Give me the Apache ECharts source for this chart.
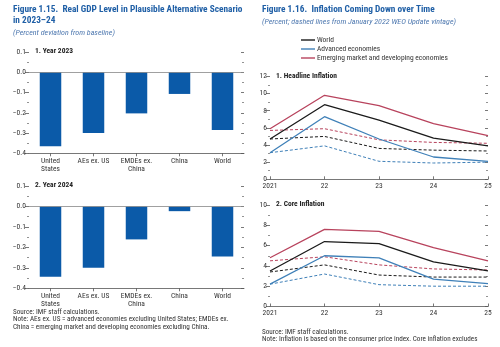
<!DOCTYPE html>
<html>
<head>
<meta charset="utf-8">
<script src="https://cdn.jsdelivr.net/npm/echarts@6/dist/echarts.min.js"></script>
<style>
  html, body { margin: 0; padding: 0; background: #fff; }
  #chart { width: 500px; height: 347px; }
</style>
</head>
<body>
<div id="chart"></div>
<script>
// Figure 1.15: real GDP level deviation from baseline (percent)
const gdpCategories = ['United\nStates', 'AEs ex. US', 'EMDEs ex.\nChina', 'China', 'World'];
const gdp2023 = [-0.365, -0.30, -0.203, -0.107, -0.285];
const gdp2024 = [-0.343, -0.30, -0.161, -0.023, -0.244];

// Figure 1.16: inflation (percent); "Jan" arrays are the January 2022 WEO Update vintage
const years = ['2021', '22', '23', '24', '25'];
const headlineWorld = [4.7, 8.7, 6.9, 4.8, 3.9];
const headlineAE = [3.1, 7.3, 4.7, 2.6, 2.1];
const headlineEMDE = [5.9, 9.8, 8.6, 6.5, 5.1];
const headlineWorldJan = [4.7, 5.0, 3.6, 3.4, 3.3];
const headlineAEJan = [3.1, 3.9, 2.1, 1.9, 2.0];
const headlineEMDEJan = [5.7, 5.9, 4.6, 4.3, 4.2];

const coreWorld = [3.5, 6.4, 6.2, 4.4, 3.5];
const coreAE = [2.2, 5.0, 4.8, 2.7, 2.25];
const coreEMDE = [4.8, 7.6, 7.4, 5.8, 4.5];
const coreWorldJan = [3.4, 4.1, 3.1, 2.9, 2.9];
const coreAEJan = [2.2, 3.2, 2.15, 2.0, 2.0];
const coreEMDEJan = [4.5, 4.9, 4.1, 3.7, 3.6];

const FONT = '"Roboto Condensed", Roboto, "Liberation Sans", sans-serif';
const TXT = '#333';
const BLUE_TITLE = '#1f5fa6';
const BAR = '#0b5aa8';
const C_WORLD = '#1a1a1a';
const C_AE = '#3f80b8';
const C_EMDE = '#b8435d';
const SERIES_NAMES = ['World', 'Advanced economies', 'Emerging market and developing economies'];
const LABEL_SIZE = 7.5;

const chart = echarts.init(document.getElementById('chart'), null, { renderer: 'canvas' });

function minusFmt(d) {
  return function (v) {
    const s = Math.abs(v) < 1e-9 ? (0).toFixed(d) : Math.abs(v).toFixed(d);
    return (v < -1e-9 ? '\u2212' : '') + s;
  };
}

function leftY(grid, min, max, interval, dec) {
  return {
    type: 'value', gridIndex: grid, position: 'left', min: min, max: max, interval: interval,
    axisLine: { show: false },
    axisTick: { show: true, length: 4, lineStyle: { color: '#555', width: 0.8 } },
    minorTick: { show: true, splitNumber: 2, length: 2, lineStyle: { color: '#777', width: 0.8 } },
    splitLine: { show: false },
    axisLabel: { fontFamily: FONT, fontSize: LABEL_SIZE, color: TXT, margin: 3, formatter: minusFmt(dec) }
  };
}
function rightY(grid, min, max, interval) {
  return {
    type: 'value', gridIndex: grid, position: 'right', min: min, max: max, interval: interval,
    axisLine: { show: false },
    axisTick: { show: true, length: 3, inside: true, lineStyle: { color: '#555', width: 0.8 } },
    minorTick: { show: true, splitNumber: 2, length: 2, lineStyle: { color: '#777', width: 0.8 } },
    splitLine: { show: false },
    axisLabel: { show: false }
  };
}
function barX(grid) {
  return {
    type: 'category', gridIndex: grid, data: gdpCategories, position: 'bottom',
    axisLine: { show: true, onZero: false, lineStyle: { color: '#555', width: 0.8 } },
    axisTick: { show: true, alignWithLabel: true, length: 3, lineStyle: { color: '#555', width: 0.8 } },
    axisLabel: { fontFamily: FONT, fontSize: LABEL_SIZE, color: TXT, margin: 3.5, lineHeight: 8.5, interval: 0 }
  };
}
function lineX(grid) {
  return {
    type: 'category', gridIndex: grid, data: years, boundaryGap: false,
    axisLine: { show: true, onZero: false, lineStyle: { color: '#555', width: 0.8 } },
    axisTick: { show: true, inside: true, length: 3, lineStyle: { color: '#555', width: 0.8 } },
    axisLabel: { fontFamily: FONT, fontSize: LABEL_SIZE, color: TXT, margin: 2.5 }
  };
}
function barSeries(idx, data) {
  return {
    type: 'bar', xAxisIndex: idx, yAxisIndex: idx * 2, data: data, barWidth: '50%',
    itemStyle: { color: BAR }, silent: true,
    markLine: {
      silent: true, symbol: 'none', label: { show: false },
      lineStyle: { color: '#888', width: 0.8, type: 'solid' },
      data: [{ yAxis: 0 }]
    }
  };
}
function lineSeries(idx, name, data, color, dashed) {
  return {
    type: 'line', name: name, xAxisIndex: idx, yAxisIndex: idx * 2, data: data,
    symbol: 'none', silent: true, z: dashed ? 2 : 3,
    lineStyle: dashed ? { color: color, width: 1, type: [3, 2] } : { color: color, width: 1.3 },
    itemStyle: { color: color }
  };
}

const t = (x, y, text, style) => ({
  type: 'text', left: x, top: y,
  style: Object.assign({ text: text, fontFamily: FONT, fontSize: 7.2, fill: TXT }, style || {})
});

chart.setOption({
  animation: false,
  backgroundColor: '#fff',
  grid: [
    { left: 29, width: 215, top: 52, height: 101.3 },
    { left: 29, width: 215, top: 186, height: 102.3 },
    { left: 270, width: 218, top: 76.4, height: 102.9 },
    { left: 270, width: 218, top: 205, height: 101.5 }
  ],
  xAxis: [barX(0), barX(1), lineX(2), lineX(3)],
  yAxis: [
    leftY(0, -0.4, 0.1, 0.1, 1), rightY(0, -0.4, 0.1, 0.1),
    leftY(1, -0.4, 0.1, 0.1, 1), rightY(1, -0.4, 0.1, 0.1),
    leftY(2, 0, 12, 2, 0), rightY(2, 0, 12, 2),
    leftY(3, 0, 10, 2, 0), rightY(3, 0, 10, 2)
  ],
  legend: {
    data: SERIES_NAMES, orient: 'vertical', left: 301, top: 36,
    icon: 'rect', itemWidth: 14, itemHeight: 1.4, itemGap: 1,
    selectedMode: false, padding: 0,
    textStyle: { fontFamily: FONT, fontSize: LABEL_SIZE, lineHeight: 8, color: TXT, padding: [0, 0, 0, -3] }
  },
  series: [
    barSeries(0, gdp2023),
    barSeries(1, gdp2024),
    lineSeries(2, 'Emerging market and developing economies (Jan. 2022)', headlineEMDEJan, C_EMDE, true),
    lineSeries(2, 'World (Jan. 2022)', headlineWorldJan, C_WORLD, true),
    lineSeries(2, 'Advanced economies (Jan. 2022)', headlineAEJan, C_AE, true),
    lineSeries(2, SERIES_NAMES[0], headlineWorld, C_WORLD, false),
    lineSeries(2, SERIES_NAMES[1], headlineAE, C_AE, false),
    lineSeries(2, SERIES_NAMES[2], headlineEMDE, C_EMDE, false),
    lineSeries(3, 'Emerging market and developing economies (Jan. 2022)', coreEMDEJan, C_EMDE, true),
    lineSeries(3, 'World (Jan. 2022)', coreWorldJan, C_WORLD, true),
    lineSeries(3, 'Advanced economies (Jan. 2022)', coreAEJan, C_AE, true),
    lineSeries(3, SERIES_NAMES[0], coreWorld, C_WORLD, false),
    lineSeries(3, SERIES_NAMES[1], coreAE, C_AE, false),
    lineSeries(3, SERIES_NAMES[2], coreEMDE, C_EMDE, false)
  ],
  graphic: [
    t(13, 5.5, 'Figure 1.15.  Real GDP Level in Plausible Alternative Scenario', { fontSize: 9.3, fontWeight: 'bold', fill: BLUE_TITLE }),
    t(13, 16.5, 'in 2023\u201324', { fontSize: 9.3, fontWeight: 'bold', fill: BLUE_TITLE }),
    t(13, 28.5, '(Percent deviation from baseline)', { fontSize: 8, fontStyle: 'italic', fill: '#4f79b0' }),
    t(35, 47.5, '1. Year 2023', { fontSize: LABEL_SIZE, fontWeight: 'bold', fill: '#222' }),
    t(35, 181.5, '2. Year 2024', { fontSize: LABEL_SIZE, fontWeight: 'bold', fill: '#222' }),
    t(13, 308.5, 'Source: IMF staff calculations.'),
    t(13, 316, 'Note: AEs ex. US = advanced economies excluding United States; EMDEs ex.'),
    t(13, 323.5, 'China = emerging market and developing economies excluding China.'),

    t(262, 5.5, 'Figure 1.16.  Inflation Coming Down over Time', { fontSize: 9.3, fontWeight: 'bold', fill: BLUE_TITLE }),
    t(262, 17.5, '(Percent; dashed lines from January 2022 WEO Update vintage)', { fontSize: 8, fontStyle: 'italic', fill: '#4f79b0' }),
    t(276, 72, '1. Headline Inflation', { fontSize: LABEL_SIZE, fontWeight: 'bold', fill: '#222' }),
    t(276, 200.5, '2. Core Inflation', { fontSize: LABEL_SIZE, fontWeight: 'bold', fill: '#222' }),
    t(262, 329, 'Source: IMF staff calculations.'),
    t(262, 335.5, 'Note: Inflation is based on the consumer price index. Core inflation excludes')
  ]
});
</script>
</body>
</html>
